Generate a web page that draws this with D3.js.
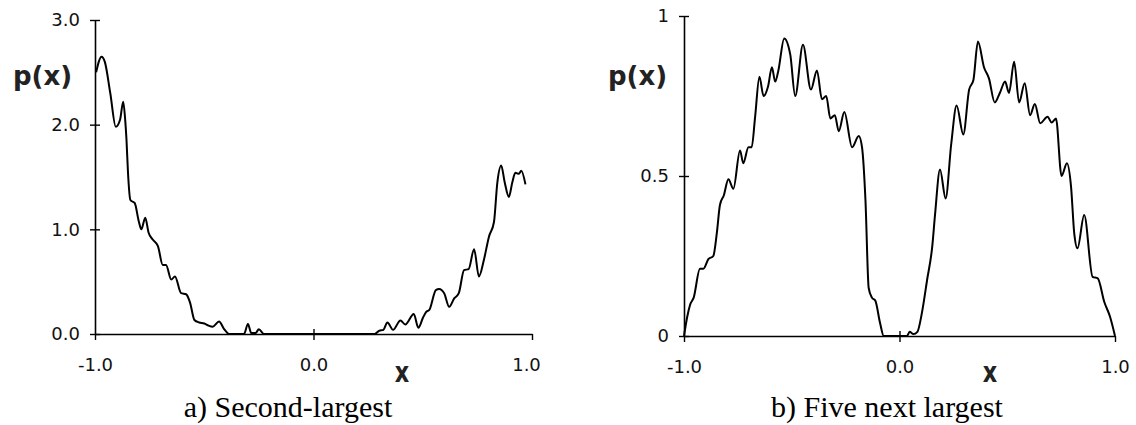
<!DOCTYPE html>
<html>
<head>
<meta charset="utf-8">
<script src="https://cdn.jsdelivr.net/npm/d3@7"></script>
<style>
  body { margin: 0; background: #fff; }
  svg { display: block; }
</style>
</head>
<body>
<svg id="chart" width="1136" height="425"></svg>
<script>
// a) second-largest eigenvector density
const xA = [-0.995, -0.97, -0.955, -0.93, -0.905, -0.885, -0.871, -0.862, -0.856, -0.849, -0.838, -0.818,
    -0.80, -0.788, -0.770, -0.755, -0.735, -0.712, -0.69, -0.675, -0.651, -0.634, -0.606, -0.583, -0.565,
    -0.545, -0.523, -0.50, -0.48, -0.462, -0.432, -0.41, -0.386, -0.318, -0.30, -0.285, -0.265, -0.25,
    -0.227, 0.28, 0.30, 0.32, 0.338, 0.364, 0.398, 0.42, 0.459, 0.48, 0.50, 0.515, 0.53, 0.56, 0.575,
    0.598, 0.621, 0.644, 0.665, 0.689, 0.71, 0.735, 0.757, 0.78, 0.803, 0.826, 0.841, 0.859, 0.875,
    0.894, 0.91, 0.924, 0.94, 0.951, 0.97];
const pA = [2.5, 2.65, 2.6, 2.3, 1.98, 2.05, 2.22, 2.05, 1.86, 1.54, 1.28, 1.25,
    1.08, 1.0, 1.11, 0.97, 0.90, 0.84, 0.66, 0.66, 0.52, 0.55, 0.39, 0.38, 0.30,
    0.134, 0.11, 0.10, 0.08, 0.07, 0.12, 0.05, 0.0, 0.0, 0.096, 0.01, 0.01, 0.045,
    0.0, 0.0, 0.03, 0.04, 0.11, 0.04, 0.13, 0.09, 0.19, 0.06, 0.15, 0.21, 0.23, 0.42, 0.43,
    0.39, 0.26, 0.34, 0.39, 0.61, 0.62, 0.81, 0.55, 0.71, 0.93, 1.07, 1.44, 1.61, 1.45,
    1.31, 1.45, 1.54, 1.53, 1.56, 1.43];

// b) five next largest
const xB = [-1.0, -0.985, -0.972, -0.955, -0.926, -0.91, -0.887, -0.864, -0.848, -0.833, -0.815, -0.794,
    -0.771, -0.74, -0.725, -0.701, -0.686, -0.670, -0.650, -0.631, -0.61, -0.592, -0.577, -0.562,
    -0.535, -0.507, -0.484, -0.448, -0.411, -0.383, -0.36, -0.34, -0.321, -0.30, -0.282, -0.256,
    -0.22, -0.189, -0.174, -0.158, -0.143, -0.128, -0.112, -0.09, -0.073, 0.02, 0.035, 0.047, 0.065,
    0.083, 0.105, 0.128, 0.152, 0.165, 0.188, 0.214, 0.24, 0.265, 0.296, 0.323, 0.343, 0.364, 0.392,
    0.415, 0.442, 0.466, 0.49, 0.508, 0.532, 0.555, 0.581, 0.606, 0.628, 0.653, 0.687, 0.706, 0.726,
    0.752, 0.777, 0.796, 0.811, 0.826, 0.857, 0.896, 0.92, 0.95, 0.977, 1.0];
const pB = [0.0, 0.06, 0.097, 0.12, 0.21, 0.21, 0.24, 0.25, 0.32, 0.41, 0.44, 0.49,
    0.46, 0.58, 0.54, 0.59, 0.59, 0.685, 0.81, 0.75, 0.78, 0.84, 0.795, 0.83,
    0.93, 0.88, 0.75, 0.91, 0.77, 0.83, 0.74, 0.75, 0.68, 0.69, 0.64, 0.70,
    0.59, 0.625, 0.59, 0.425, 0.15, 0.12, 0.11, 0.04, 0.0, 0.0, 0.0, 0.013, 0.006,
    0.013, 0.076, 0.175, 0.28, 0.38, 0.52, 0.43, 0.60, 0.72, 0.63, 0.77, 0.80, 0.92, 0.84,
    0.805, 0.73, 0.76, 0.795, 0.76, 0.857, 0.73, 0.79, 0.69, 0.725, 0.665, 0.685, 0.667, 0.68,
    0.50, 0.54, 0.467, 0.32, 0.274, 0.378, 0.185, 0.18, 0.107, 0.06, 0.0];

const xTicks = [-1, 0, 1];
const xTickLabels = ["-1.0", "0.0", "1.0"];
const yTicksA = [0, 1, 2, 3];
const yTickLabelsA = ["0.0", "1.0", "2.0", "3.0"];
const yTicksB = [0, 0.5, 1];
const yTickLabelsB = ["0", "0.5", "1"];

const svg = d3.select("#chart");
const tickFont = "'DejaVu Sans', sans-serif";

function drawPanel(cfg) {
    const x = d3.scaleLinear().domain([-1, 1]).range(cfg.xRange);
    const y = d3.scaleLinear().domain(cfg.yDomain).range(cfg.yRange);
    const y0 = y(0);

    const g = svg.append("g");

    // x axis
    const xAxis = g.append("g")
        .attr("transform", `translate(0, ${y0})`)
        .call(d3.axisBottom(x).tickValues(xTicks).tickSizeOuter(0).tickSizeInner(6)
            .tickFormat((d, i) => xTickLabels[i]));
    xAxis.select(".domain").attr("stroke", "#000").attr("stroke-width", 1.6);
    xAxis.selectAll(".tick line").attr("y1", d => d === 0 ? -5 : 0).attr("stroke-width", 1.4);
    xAxis.selectAll(".tick text")
        .attr("y", 37).attr("dy", 0)
        .attr("dx", d => d === 1 ? cfg.lastDx : 0)
        .attr("font-family", tickFont).attr("font-size", "18px").attr("fill", "#111");

    // y axis
    const yAxis = g.append("g")
        .attr("transform", `translate(${x(-1)}, 0)`)
        .call(d3.axisLeft(y).tickValues(cfg.yTicks).tickSizeOuter(0).tickSizeInner(5)
            .tickFormat((d, i) => cfg.yLabels[i]));
    yAxis.select(".domain").attr("stroke", "#000").attr("stroke-width", 1.6);
    yAxis.selectAll(".tick line").attr("x1", 5).attr("stroke-width", 1.4);
    yAxis.selectAll(".tick text")
        .attr("x", -15)
        .attr("font-family", tickFont).attr("font-size", "18px").attr("fill", "#111");

    const line = d3.line()
        .x((d, i) => x(cfg.xs[i]))
        .y(d => y(d))
        .curve(d3.curveMonotoneX);

    g.append("path")
        .datum(cfg.ps)
        .attr("fill", "none")
        .attr("stroke", "#000")
        .attr("stroke-width", 2)
        .attr("stroke-linejoin", "round")
        .attr("d", line);

    // axis titles
    g.append("text")
        .attr("x", cfg.pxX)
        .attr("y", 85)
        .attr("font-family", tickFont)
        .attr("font-weight", "bold")
        .attr("font-size", "26px")
        .attr("fill", "#222")
        .text("p(x)");

    g.append("text")
        .attr("transform", `translate(${cfg.xTitleX}, 382) scale(0.8, 1)`)
        .attr("text-anchor", "middle")
        .attr("font-family", tickFont)
        .attr("font-weight", "bold")
        .attr("font-size", "28px")
        .attr("fill", "#222")
        .text("x");

    g.append("text")
        .attr("x", cfg.captionX)
        .attr("y", 417)
        .attr("text-anchor", "middle")
        .attr("font-family", "'Liberation Serif', 'Times New Roman', serif")
        .attr("font-size", "30px")
        .attr("fill", "#000")
        .text(cfg.caption);
}

drawPanel({
    xs: xA, ps: pA,
    xRange: [95, 532], yDomain: [0, 3], yRange: [334, 20],
    yTicks: yTicksA, yLabels: yTickLabelsA,
    lastDx: -6, pxX: 13, xTitleX: 402, captionX: 288,
    caption: "a) Second-largest"
});

drawPanel({
    xs: xB, ps: pB,
    xRange: [684, 1115], yDomain: [0, 1], yRange: [336, 16],
    yTicks: yTicksB, yLabels: yTickLabelsB,
    lastDx: 0, pxX: 608, xTitleX: 990, captionX: 887,
    caption: "b) Five next largest"
});
</script>
</body>
</html>
